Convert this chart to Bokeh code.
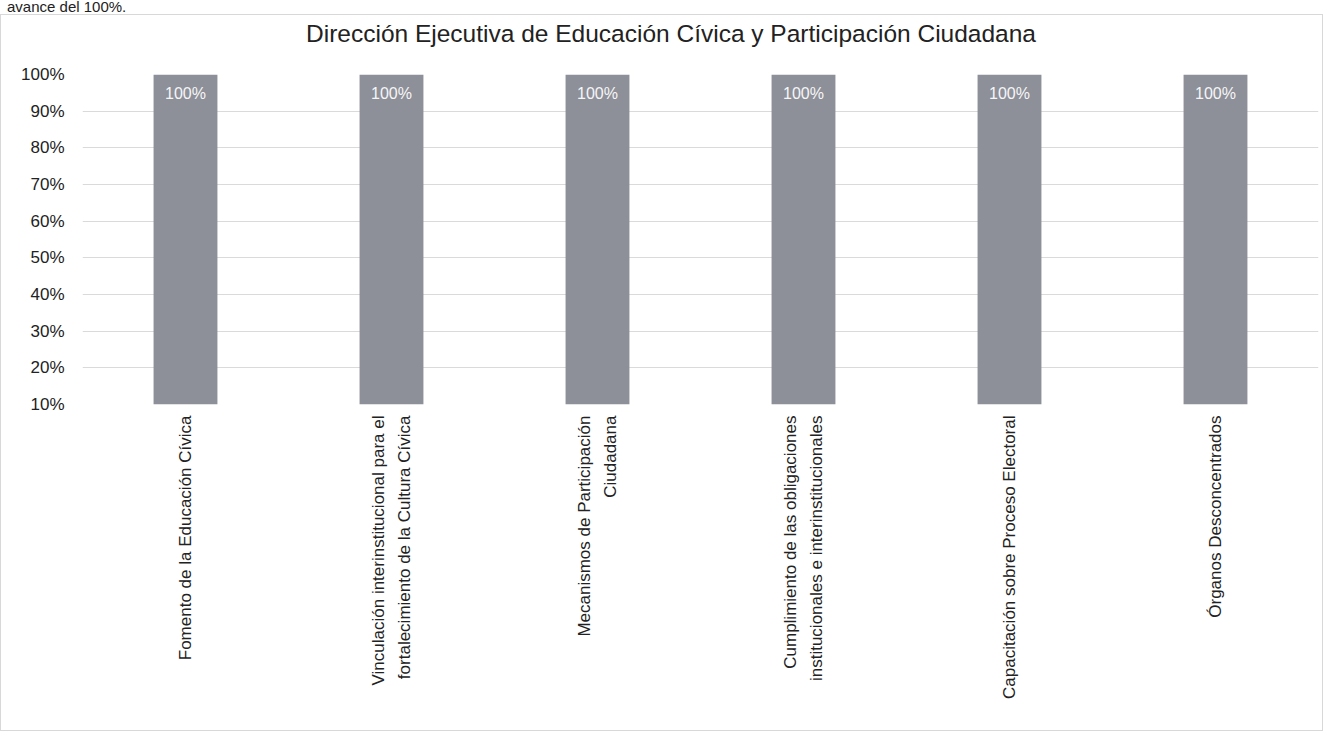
import math
from bokeh.plotting import figure
from bokeh.layouts import column
from bokeh.models import (FactorRange, Range1d, FixedTicker, PrintfTickFormatter,
                          ColumnDataSource, Div)
from bokeh.core.properties import value
from bokeh.embed import file_html
from bokeh.resources import INLINE

categories = [
    "Fomento de la Educación Cívica",
    "Vinculación interinstitucional para el\nfortalecimiento de la Cultura Cívica",
    "Mecanismos de Participación\nCiudadana",
    "Cumplimiento de las obligaciones\ninstitucionales e interinstitucionales",
    "Capacitación sobre Proceso Electoral",
    "Órganos Desconcentrados",
]
values = [100, 100, 100, 100, 100, 100]
bar_labels = ["100%", "100%", "100%", "100%", "100%", "100%"]
y_ticks = [10, 20, 30, 40, 50, 60, 70, 80, 90, 100]
title_text = "Dirección Ejecutiva de Educación Cívica y Participación Ciudadana"
page_fragment = "avance del 100%."

FONT = "Liberation Sans"
W = 1321

src = ColumnDataSource(dict(cat=categories, val=values, lab=bar_labels))

p = figure(
    x_range=FactorRange(*categories),
    y_range=Range1d(10, 100),
    width=W, height=677,
    output_backend="svg", toolbar_location=None,
    min_border_left=81, min_border_right=4,
    min_border_top=21, min_border_bottom=326,
    background_fill_color="white", border_fill_color="white",
)

p.vbar(x="cat", top="val", width=0.31, source=src,
       fill_color="#8d8f99", line_color=None)

p.text(x="cat", y="val", text="lab", source=src,
       text_align="center", text_baseline="top", y_offset=10,
       text_color="#f6f6f6", text_font_size="16px",
       text_font=value(FONT))

p.outline_line_color = None
p.xgrid.grid_line_color = None
p.ygrid.grid_line_color = "#dadada"
p.ygrid.ticker = FixedTicker(ticks=y_ticks)

p.yaxis.ticker = FixedTicker(ticks=y_ticks)
p.yaxis.formatter = PrintfTickFormatter(format="%d%%")
p.yaxis.axis_line_color = None
p.yaxis.major_tick_line_color = None
p.yaxis.minor_tick_line_color = None
p.yaxis.major_tick_out = 0
p.yaxis.major_tick_in = 0
p.yaxis.major_label_standoff = 18
p.yaxis.major_label_text_font = FONT
p.yaxis.major_label_text_font_size = "17px"
p.yaxis.major_label_text_color = "#222222"

p.xaxis.axis_line_color = None
p.xaxis.major_tick_line_color = None
p.xaxis.minor_tick_line_color = None
p.xaxis.major_tick_out = 0
p.xaxis.major_tick_in = 0
p.xaxis.major_label_orientation = math.pi / 2
p.xaxis.major_label_standoff = 11
p.xaxis.major_label_text_font = FONT
p.xaxis.major_label_text_font_size = "17px"
p.xaxis.major_label_text_line_height = 1.4
p.xaxis.major_label_text_color = "#222222"

title_div = Div(text=title_text, width=W, height=38, margin=(0, 0, 0, 0),
                styles={"font-family": "'Liberation Sans', Arial, sans-serif",
                        "font-size": "24.5px", "line-height": "38px",
                        "color": "#222222", "text-align": "center",
                        "box-sizing": "border-box", "padding-left": "19px"})

frag_div = Div(text=page_fragment, width=W, height=14, margin=(0, 0, 0, 0),
               styles={"font-family": "'Liberation Sans', Arial, sans-serif",
                       "font-size": "15px", "line-height": "14px",
                       "color": "#222222", "box-sizing": "border-box",
                       "padding-left": "7px"})

chart = column(title_div, p, spacing=0,
               styles={"border": "1px solid #d8d8d8", "background": "white"})
page = column(frag_div, chart, spacing=0)

open("out.html", "w").write(file_html(page, INLINE))
